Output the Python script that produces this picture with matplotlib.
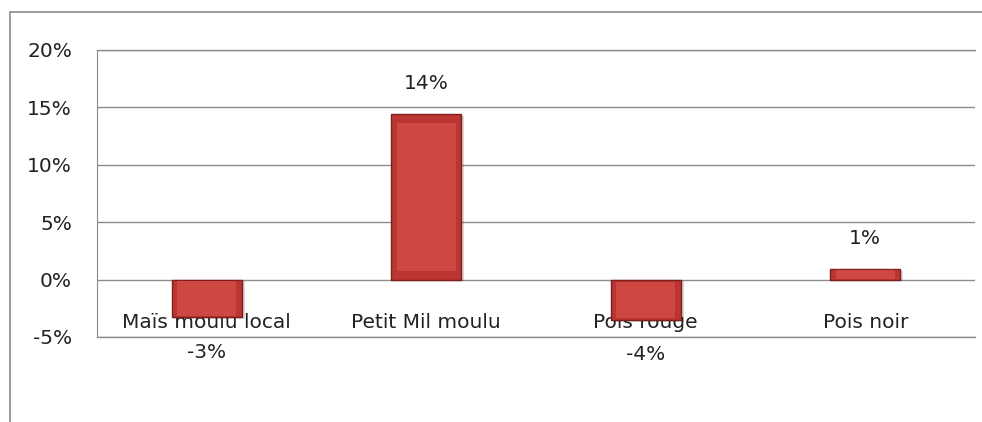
import matplotlib.pyplot as plt
from matplotlib.patches import Rectangle
from matplotlib.ticker import FuncFormatter

# données
produits = ['Maïs moulu local', 'Petit Mil moulu', 'Pois rouge', 'Pois noir']
variation = [-3.3, 14.4, -3.5, 0.9]
etiquettes = ['-3%', '14%', '-4%', '1%']

plt.rcParams['font.family'] = ['DejaVu Sans']

fig = plt.figure(figsize=(9.82, 4.22), dpi=100)
fig.patches.append(Rectangle((10/982, -0.05), 1.2, 1 - 12/422 + 0.05,
                             transform=fig.transFigure, fill=False,
                             edgecolor='#8c8c8c', linewidth=1.2))

ax = fig.add_axes([97/982, 1 - 337/422, 878/982, 287/422])

x = range(len(produits))
# ombre légère puis barres
ax.bar([i + 0.012 for i in x], variation, width=0.32, bottom=-0.15,
       color='#000000', alpha=0.15, linewidth=0, zorder=2)
ax.bar(x, variation, width=0.32, color='#bb3532', edgecolor='#7e1f1c',
       linewidth=1, zorder=3)
# effet biseauté : reflet clair à l'intérieur
ax.bar(x, [v * 0.9 for v in variation], width=0.27,
       bottom=[v * 0.05 for v in variation], color='#cf4743',
       linewidth=0, zorder=4)

for i in x:
    v = variation[i]
    dy = 22 if v >= 0 else -25
    ax.annotate(etiquettes[i], (i, v), xytext=(0, dy), textcoords='offset points',
                ha='center', va='center', fontsize=14.5, color='#222222')
    # étiquette de catégorie sous l'axe du zéro (derrière les barres)
    ax.text(i, -3.7, produits[i], ha='center', va='center', fontsize=14.5,
            color='#222222', zorder=1)

ax.set_xlim(-0.5, 3.5)
ax.set_ylim(-5, 20)
ax.set_yticks([-5, 0, 5, 10, 15, 20])
ax.yaxis.set_major_formatter(FuncFormatter(lambda v, p: '%d%%' % v))
ax.set_xticks([])
ax.tick_params(axis='y', length=0, pad=18, labelsize=14.5, labelcolor='#222222')

ax.grid(axis='y', color='#8c8c8c', linewidth=1, zorder=0)
ax.axhline(-5, color='#8c8c8c', linewidth=1, clip_on=False, zorder=0)
ax.axhline(20, color='#8c8c8c', linewidth=1, clip_on=False, zorder=0)
ax.set_axisbelow(True)
for s in ['top', 'right', 'bottom']:
    ax.spines[s].set_visible(False)
ax.spines['left'].set_color('#8c8c8c')

plt.savefig('out.png')
